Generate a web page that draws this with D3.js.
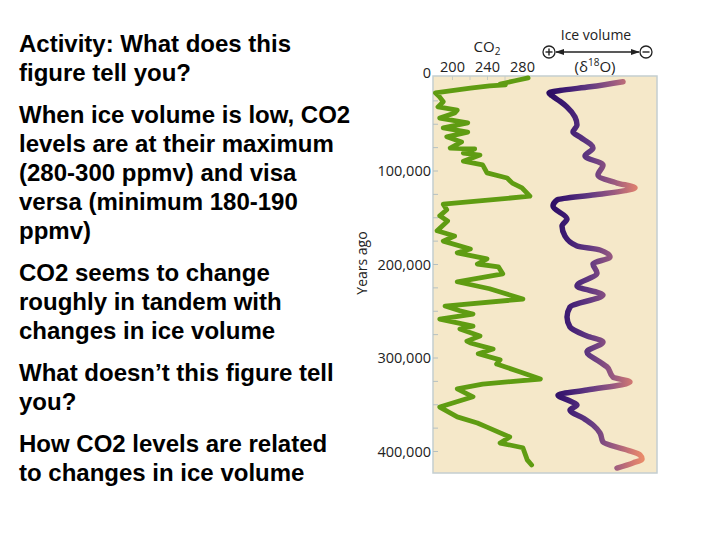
<!DOCTYPE html>
<html><head><meta charset="utf-8">
<script src="https://cdn.jsdelivr.net/npm/d3@7/dist/d3.min.js"></script>
<style>body{margin:0;background:#fff}svg{display:block}</style>
</head><body>
<svg id="c" width="720" height="540"></svg>
<script>
// ---------- data ----------
const slideParagraphs = [
  ["Activity: What does this", "figure tell you?"],
  ["When ice volume is low, CO2", "levels are at their maximum", "(280-300 ppmv) and visa", "versa (minimum 180-190", "ppmv)"],
  ["CO2 seems to change", "roughly in tandem with", "changes in ice volume"],
  ["What doesn\u2019t this figure tell", "you?"],
  ["How CO2 levels are related", "to changes in ice volume"]
];
const ageTicks = [0, 100000, 200000, 300000, 400000];
const minorAgeTicks = [25000,50000,75000,100000,125000,150000,175000,200000,225000,250000,275000,300000,325000,350000,375000,400000];
const co2Ticks = [200, 240, 280];
const co2MinorTicks = [200, 220, 240, 260];
const co2Age = [1000,4000,7500,8500,9500,12000,17000,21500,26500,32000,35500,38500,44000,49000,54500,59000,64000,69500,76000,77000,81500,83500,90000,94000,102500,108000,113500,118500,127500,136000,142000,148500,154000,164500,170000,175500,184000,188000,194500,200000,203000,210500,219000,226500,237500,245000,250000,253500,259000,266500,269500,277000,282500,284500,291000,296000,302500,307000,315500,323000,328500,333500,342000,353000,363500,370000,374500,385000,391500,396500,409500,415000];
const co2Ppm = [287,272,255,261,243,221,181,186,190,184,206,203,186,218,190,218,194,211,198,226,213,232,213,235,240,263,269,280,289,190,194,186,195,183,203,190,221,206,240,229,253,258,206,243,281,192,209,224,186,224,209,232,217,221,247,230,255,251,278,301,235,206,224,186,206,229,240,266,255,281,286,291];
const iceAge = [5000,10500,14500,17000,20000,26000,32000,42800,51300,58800,64200,75900,84500,94100,104800,113400,118500,121500,126000,131500,138000,151900,159400,170100,180700,185000,192500,200000,209600,223500,233200,246000,256700,267400,277000,283400,294100,304800,310100,320900,326200,334800,340100,346500,350800,356200,364700,372200,380700,390400,398900,404300,408500,412800,418200];
const iceD18O = [3.44,4.10,4.70,4.92,4.86,4.70,4.56,4.40,4.36,4.44,4.30,4.04,4.20,3.84,3.94,3.56,3.20,3.40,4.00,4.76,4.84,4.56,4.66,4.60,4.36,3.90,3.70,4.04,3.96,4.36,3.84,4.50,4.56,4.50,4.16,3.84,4.16,3.90,3.76,3.64,3.30,4.16,4.74,4.50,4.36,4.50,4.24,4.04,3.90,3.84,3.36,3.10,3.06,3.24,3.56];

// ---------- layout ----------
const svg = d3.select("#c");
const plot = {left: 433, right: 657, top: 76, bottom: 473};
const y = d3.scaleLinear().domain([0, 400000]).range([77, 451]);
const xCO2 = d3.scaleLinear().domain([200, 280]).range([452, 522]);
const xIce = d3.scaleLinear().domain([5.0, 3.0]).range([545, 645]);
const chartFont = "'Open Sans', 'Noto Sans', sans-serif";

// ---------- slide text ----------
const tg = svg.append("g").attr("font-family", "'Liberation Sans', Arial, sans-serif")
  .attr("font-weight", "bold").attr("font-size", 24).attr("fill", "#000");
let base = 52;
slideParagraphs.forEach((p, pi) => {
  if (pi > 0) base += 13;
  p.forEach(line => {
    tg.append("text").attr("x", 19).attr("y", base).text(line);
    base += 29;
  });
});

// ---------- plot background ----------
svg.append("rect").attr("x", plot.left).attr("y", plot.top)
  .attr("width", plot.right - plot.left).attr("height", plot.bottom - plot.top)
  .attr("fill", "#f5e8c9").attr("stroke", "#c4ced0").attr("stroke-width", 1.5);

// minor ticks inside left edge
svg.append("g").attr("transform", `translate(${plot.left},0)`)
  .call(d3.axisRight(y).tickValues(minorAgeTicks).tickSize(5).tickFormat(""))
  .call(g => g.select(".domain").remove())
  .call(g => g.selectAll("line").attr("stroke", "#b4c0c2"));
// minor ticks inside top edge
svg.append("g").attr("transform", `translate(0,${plot.top})`)
  .call(d3.axisBottom(xCO2).tickValues(co2MinorTicks).tickSize(4).tickFormat(""))
  .call(g => g.select(".domain").remove())
  .call(g => g.selectAll("line").attr("stroke", "#c8ccc4"));

// left labels
const yAx = svg.append("g").attr("transform", `translate(${plot.left},0)`)
  .call(d3.axisLeft(y).tickValues(ageTicks).tickSize(0).tickPadding(2).tickFormat(d3.format(",")));
yAx.select(".domain").remove();
yAx.selectAll("text").attr("font-family", chartFont).attr("font-size", 14.5).attr("fill", "#222")
  .attr("dy", d => d === 0 ? "0em" : "0.35em");

// top labels
const xAx = svg.append("g").attr("transform", `translate(0,${plot.top})`)
  .call(d3.axisTop(xCO2).tickValues(co2Ticks).tickSize(0).tickPadding(4));
xAx.select(".domain").remove();
xAx.selectAll("text").attr("font-family", chartFont).attr("font-size", 14.5).attr("fill", "#222");

// axis title
svg.append("text").attr("transform", "translate(367,263) rotate(-90)")
  .attr("text-anchor", "middle").attr("font-family", chartFont).attr("font-size", 14)
  .attr("fill", "#222").text("Years ago");

// CO2 header
const co2t = svg.append("text").attr("x", xCO2(240)).attr("y", 52).attr("text-anchor", "middle")
  .attr("font-family", chartFont).attr("font-size", 15).attr("fill", "#222");
co2t.append("tspan").text("CO");
co2t.append("tspan").attr("font-size", 10).attr("dy", 3).text("2");

// Ice volume header
const iceMid = (xIce(5.0) + xIce(3.0)) / 2;
svg.append("text").attr("x", iceMid + 1).attr("y", 40).attr("text-anchor", "middle")
  .attr("font-family", chartFont).attr("font-size", 14).attr("fill", "#222").text("Ice volume");
const dt = svg.append("text").attr("x", iceMid).attr("y", 72).attr("text-anchor", "middle")
  .attr("font-family", chartFont).attr("font-size", 15).attr("fill", "#222");
dt.append("tspan").text("(\u03b4");
dt.append("tspan").attr("font-size", 10).attr("dy", -6).text("18");
dt.append("tspan").attr("dy", 6).text("O)");

const defs = svg.append("defs");
defs.append("marker").attr("id", "ah").attr("viewBox", "0 0 10 10").attr("refX", 9).attr("refY", 5)
  .attr("markerWidth", 7).attr("markerHeight", 7).attr("orient", "auto-start-reverse")
  .append("path").attr("d", "M0,1.5 L10,5 L0,8.5 z").attr("fill", "#222");
const cy = 52, cL = 549, cR = 646;
svg.append("line").attr("x1", cL + 7).attr("x2", cR - 7).attr("y1", cy).attr("y2", cy)
  .attr("stroke", "#222").attr("stroke-width", 1.3)
  .attr("marker-start", "url(#ah)").attr("marker-end", "url(#ah)");
[cL, cR].forEach((cx, i) => {
  svg.append("circle").attr("cx", cx).attr("cy", cy).attr("r", 6)
    .attr("fill", "#fff").attr("stroke", "#222").attr("stroke-width", 1.3);
  svg.append("line").attr("x1", cx - 3.5).attr("x2", cx + 3.5).attr("y1", cy).attr("y2", cy)
    .attr("stroke", "#222").attr("stroke-width", 1.4);
  if (i === 0) svg.append("line").attr("x1", cx).attr("x2", cx).attr("y1", cy - 3.5).attr("y2", cy + 3.5)
    .attr("stroke", "#222").attr("stroke-width", 1.4);
});

// ---------- series ----------
const co2Data = co2Age.map((a, i) => ({age: a, v: co2Ppm[i]}));
const iceData = iceAge.map((a, i) => ({age: a, v: iceD18O[i]}));

svg.append("path").datum(co2Data)
  .attr("d", d3.line().x(d => xCO2(d.v)).y(d => y(d.age)))
  .attr("fill", "none").attr("stroke", "#5f9c12").attr("stroke-width", 4.8)
  .attr("stroke-linejoin", "round").attr("stroke-linecap", "round");

const grad = defs.append("linearGradient").attr("id", "iceGrad")
  .attr("gradientUnits", "userSpaceOnUse")
  .attr("x1", xIce(4.95)).attr("x2", xIce(3.05)).attr("y1", 0).attr("y2", 0);
[[0, "#2a0b62"], [0.2, "#3d1a72"], [0.45, "#633a82"], [0.7, "#9a5a80"], [0.9, "#d47a72"], [1, "#e88a6a"]]
  .forEach(([o, c]) => grad.append("stop").attr("offset", o).attr("stop-color", c));

svg.append("path").datum(iceData)
  .attr("d", d3.line().curve(d3.curveMonotoneY).x(d => xIce(d.v)).y(d => y(d.age)))
  .attr("fill", "none").attr("stroke", "url(#iceGrad)").attr("stroke-width", 5.5)
  .attr("stroke-linejoin", "round").attr("stroke-linecap", "round");
</script>
</body></html>
